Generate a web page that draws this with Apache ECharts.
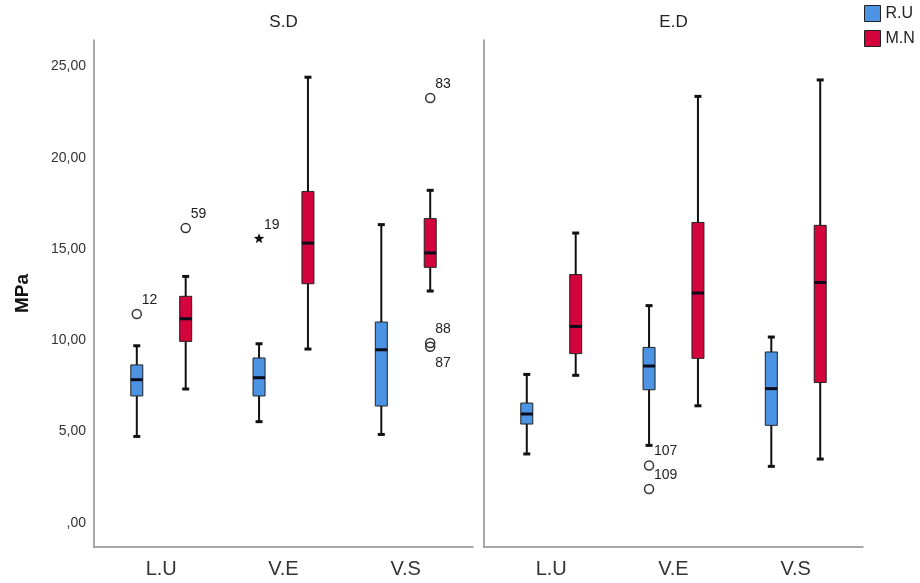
<!DOCTYPE html>
<html>
<head>
<meta charset="utf-8">
<script src="https://cdn.jsdelivr.net/npm/echarts@6/dist/echarts.min.js"></script>
<style>
  html, body { margin: 0; padding: 0; background: #fff; }
  #chart { width: 920px; height: 583px; }
</style>
</head>
<body>
<div id="chart"></div>
<script>
// panels and groups
const panels = ['S.D', 'E.D']
const categories = ['L.U', 'V.E', 'V.S']
const groups = ['R.U', 'M.N']
const yTicks = [0, 5, 10, 15, 20, 25]

// [category index, min, Q1, median, Q3, max]
const sdRU = [
  [0, 4.73, 6.95, 7.84, 8.65, 9.70],
  [1, 5.54, 6.95, 7.95, 9.03, 9.81],
  [2, 4.84, 6.40, 9.48, 11.00, 16.34]
]
const sdMN = [
  [0, 7.33, 9.94, 11.18, 12.41, 13.50],
  [1, 9.52, 13.10, 15.33, 18.16, 24.42],
  [2, 12.70, 14.00, 14.79, 16.67, 18.22]
]
const edRU = [
  [0, 3.77, 5.41, 5.96, 6.56, 8.13],
  [1, 4.24, 7.29, 8.59, 9.61, 11.90],
  [2, 3.09, 5.34, 7.35, 9.36, 10.18]
]
const edMN = [
  [0, 8.08, 9.27, 10.76, 13.60, 15.88],
  [1, 6.41, 9.01, 12.59, 16.46, 23.37],
  [2, 3.49, 7.69, 13.17, 16.30, 24.27]
]

// outliers: [category index, value, case id]
const sdRUOut = [[0, 11.44, '12']]
const sdRUExtreme = [[1, 15.57, '19']]
const sdMNOut = [[0, 16.15, '59'], [2, 23.28, '83'], [2, 9.85, '88'], [2, 9.65, '87']]
const edRUOut = [[1, 3.14, '107'], [1, 1.85, '109']]
const edMNOut = []

const colors = { 'R.U': '#4d93e3', 'M.N': '#d3033b' }
const offsets = { 'R.U': -0.2, 'M.N': 0.2 }
const labelBelow = ['87']

function boxRenderer (offset, color) {
  return function (params, api) {
    const idx = api.value(0)
    const unit = api.size([1, 0])[0]
    const x = api.coord([idx, 0])[0] + offset * unit
    const yMin = api.coord([idx, api.value(1)])[1]
    const yQ1 = api.coord([idx, api.value(2)])[1]
    const yMed = api.coord([idx, api.value(3)])[1]
    const yQ3 = api.coord([idx, api.value(4)])[1]
    const yMax = api.coord([idx, api.value(5)])[1]
    const half = 6
    const cap = 3.5
    const whisker = { stroke: '#111', lineWidth: 2 }
    const capStyle = { stroke: '#111', lineWidth: 3 }
    return {
      type: 'group',
      children: [
        { type: 'line', shape: { x1: x, y1: yMax, x2: x, y2: yQ3 }, style: whisker },
        { type: 'line', shape: { x1: x, y1: yQ1, x2: x, y2: yMin }, style: whisker },
        { type: 'line', shape: { x1: x - cap, y1: yMax, x2: x + cap, y2: yMax }, style: capStyle },
        { type: 'line', shape: { x1: x - cap, y1: yMin, x2: x + cap, y2: yMin }, style: capStyle },
        { type: 'rect', shape: { x: x - half, y: yQ3, width: half * 2, height: yQ1 - yQ3 }, style: { fill: color, stroke: '#222', lineWidth: 1 } },
        { type: 'line', shape: { x1: x - half, y1: yMed, x2: x + half, y2: yMed }, style: { stroke: '#0b0b1a', lineWidth: 3 } }
      ]
    }
  }
}

function outlierRenderer (list, offset, star) {
  return function (params, api) {
    const idx = api.value(0)
    const unit = api.size([1, 0])[0]
    const pt = api.coord([idx, api.value(1)])
    const x = pt[0] + offset * unit
    const y = pt[1]
    const id = list[params.dataIndex][2]
    const below = labelBelow.indexOf(id) >= 0
    let mark
    if (star) {
      const pts = []
      for (let i = 0; i < 10; i++) {
        const r = i % 2 === 0 ? 5.5 : 2.3
        const a = -Math.PI / 2 + i * Math.PI / 5
        pts.push([x + r * Math.cos(a), y + r * Math.sin(a)])
      }
      mark = { type: 'polygon', shape: { points: pts }, style: { fill: '#111' } }
    } else {
      mark = { type: 'circle', shape: { cx: x, cy: y, r: 4.5 }, style: { fill: 'none', stroke: '#333', lineWidth: 1.5 } }
    }
    return {
      type: 'group',
      children: [
        mark,
        {
          type: 'text',
          style: {
            text: id,
            x: x + 5,
            y: below ? y + 16 : y - 14,
            align: 'left',
            verticalAlign: 'middle',
            fill: '#222',
            font: '14px "Liberation Sans", Arial, sans-serif'
          }
        }
      ]
    }
  }
}

const chart = echarts.init(document.getElementById('chart'))

const axisLineStyle = { color: '#8c8c8c', width: 1.5 }
const gridLefts = [94, 484]

const boxSets = [[sdRU, sdMN], [edRU, edMN]]
const outSets = [[sdRUOut, sdMNOut], [edRUOut, edMNOut]]
const extremeSets = [[sdRUExtreme, []], [[], []]]

const series = []
panels.forEach(function (p, pi) {
  groups.forEach(function (g, gi) {
    series.push({
      name: g,
      type: 'custom',
      xAxisIndex: pi,
      yAxisIndex: pi,
      itemStyle: { color: colors[g] },
      renderItem: boxRenderer(offsets[g], colors[g]),
      encode: { x: 0, y: [1, 2, 3, 4, 5] },
      data: boxSets[pi][gi],
      silent: true
    })
  })
})
panels.forEach(function (p, pi) {
  groups.forEach(function (g, gi) {
    const outs = outSets[pi][gi]
    if (outs.length) {
      series.push({
        name: g,
        type: 'custom',
        xAxisIndex: pi,
        yAxisIndex: pi,
        renderItem: outlierRenderer(outs, offsets[g], false),
        encode: { x: 0, y: 1 },
        data: outs.map(function (o) { return [o[0], o[1]] }),
        silent: true
      })
    }
    const ext = extremeSets[pi][gi]
    if (ext.length) {
      series.push({
        name: g,
        type: 'custom',
        xAxisIndex: pi,
        yAxisIndex: pi,
        renderItem: outlierRenderer(ext, offsets[g], true),
        encode: { x: 0, y: 1 },
        data: ext.map(function (o) { return [o[0], o[1]] }),
        silent: true
      })
    }
  })
})

const option = {
  backgroundColor: '#fff',
  animation: false,
  textStyle: { fontFamily: '"Liberation Sans", Arial, sans-serif' },
  title: panels.map(function (p, pi) {
    return {
      text: p,
      left: gridLefts[pi] + 189.5,
      top: 14,
      padding: 0,
      textAlign: 'center',
      textStyle: { fontSize: 17, fontWeight: 'normal', color: '#222' }
    }
  }),
  legend: {
    orient: 'vertical',
    left: 864,
    top: 5,
    itemWidth: 16,
    itemHeight: 16,
    itemGap: 8,
    padding: 0,
    icon: 'rect',
    textStyle: { fontSize: 16, color: '#222' },
    data: groups.map(function (g) {
      return { name: g, itemStyle: { color: colors[g], borderColor: '#222', borderWidth: 1 } }
    })
  },
  grid: gridLefts.map(function (l) {
    return { left: l, top: 40, width: 379, height: 507 }
  }),
  xAxis: panels.map(function (p, pi) {
    return {
      type: 'value',
      gridIndex: pi,
      min: -0.55,
      max: 2.55,
      splitLine: { show: false },
      axisTick: { show: false },
      axisLine: { show: true, onZero: false, lineStyle: axisLineStyle },
      axisLabel: {
        customValues: [0, 1, 2],
        formatter: function (v) { return categories[v] },
        fontSize: 20,
        color: '#333',
        margin: 12
      }
    }
  }),
  yAxis: panels.map(function (p, pi) {
    return {
      type: 'value',
      gridIndex: pi,
      min: -1.33,
      max: 26.46,
      name: pi === 0 ? 'MPa' : '',
      nameLocation: 'middle',
      nameRotate: 90,
      nameGap: 62,
      nameTextStyle: { fontSize: 19, fontWeight: 'bold', color: '#111' },
      splitLine: { show: false },
      axisTick: { show: false },
      axisLine: { show: true, onZero: false, lineStyle: axisLineStyle },
      axisLabel: {
        show: pi === 0,
        customValues: yTicks,
        formatter: function (v) { return v === 0 ? ',00' : v.toFixed(2).replace('.', ',') },
        fontSize: 14,
        color: '#333',
        margin: 8
      }
    }
  }),
  series: series
}

chart.setOption(option)
</script>
</body>
</html>
